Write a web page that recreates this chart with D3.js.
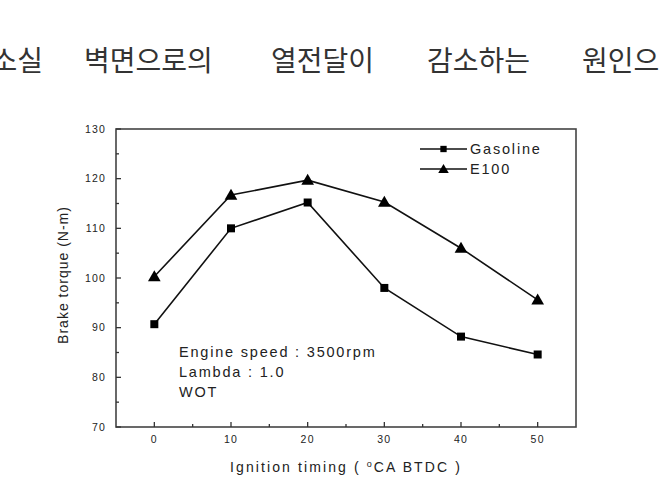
<!DOCTYPE html>
<html>
<head>
<meta charset="utf-8">
<script src="https://cdn.jsdelivr.net/npm/d3@7"></script>
<style>
  body { margin: 0; background: #fff; }
  svg { display: block; }
  text { font-family: Arial, "Liberation Sans", sans-serif; fill: #222; }
</style>
</head>
<body>
<svg id="chart" width="669" height="481"></svg>
<script>
// data
const timing = [0, 10, 20, 30, 40, 50];
const gasoline = [90.7, 110.0, 115.2, 98.0, 88.2, 84.6];
const e100 = [100.3, 116.7, 119.7, 115.3, 106.0, 95.6];
const xTicks = [0, 10, 20, 30, 40, 50];
const yTicks = [70, 80, 90, 100, 110, 120, 130];
const headerWords = ["소실", "벽면으로의", "열전달이", "감소하는", "원인으"];
const notes = ["Engine speed : 3500rpm", "Lambda : 1.0", "WOT"];

const svg = d3.select("#chart");
const m = { left: 116, top: 129, right: 576, bottom: 427 };

const x = d3.scaleLinear().domain([-5, 55]).range([m.left, m.right]);
const y = d3.scaleLinear().domain([70, 130]).range([m.bottom, m.top]);

// korean text line above the chart (fragment of page text)
const wordX = [43, 84, 271, 427, 582];
svg.append("g").selectAll("text")
  .data(headerWords)
  .join("text")
  .attr("x", (d, i) => wordX[i])
  .attr("y", 71)
  .attr("text-anchor", (d, i) => i === 0 ? "end" : "start")
  .style("font-family", "'Noto Sans CJK KR', sans-serif")
  .style("font-size", "28px")
  .style("fill", "#333")
  .text(d => d);

// frame
svg.append("rect")
  .attr("x", m.left).attr("y", m.top)
  .attr("width", m.right - m.left).attr("height", m.bottom - m.top)
  .attr("fill", "none").attr("stroke", "#444").attr("stroke-width", 1.6);

// x axis ticks (inward), minor at 5s
const xMinor = d3.range(5, 50, 10);
svg.append("g").selectAll("line.maj").data(xTicks).join("line")
  .attr("x1", d => x(d)).attr("x2", d => x(d))
  .attr("y1", m.bottom).attr("y2", m.bottom - 5)
  .attr("stroke", "#333").attr("stroke-width", 1.3);
svg.append("g").selectAll("line.min").data(xMinor).join("line")
  .attr("x1", d => x(d)).attr("x2", d => x(d))
  .attr("y1", m.bottom).attr("y2", m.bottom - 3)
  .attr("stroke", "#333").attr("stroke-width", 1.3);
svg.append("g").selectAll("text").data(xTicks).join("text")
  .attr("x", d => x(d)).attr("y", m.bottom + 16)
  .attr("text-anchor", "middle")
  .style("font-size", "10.5px").style("letter-spacing", "1.2px")
  .text(d => d);

// y axis ticks (inward), minor at 5s
const yMinor = d3.range(75, 130, 10);
svg.append("g").selectAll("line").data(yTicks).join("line")
  .attr("x1", m.left).attr("x2", m.left + 5)
  .attr("y1", d => y(d)).attr("y2", d => y(d))
  .attr("stroke", "#333").attr("stroke-width", 1.3);
svg.append("g").selectAll("line").data(yMinor).join("line")
  .attr("x1", m.left).attr("x2", m.left + 3)
  .attr("y1", d => y(d)).attr("y2", d => y(d))
  .attr("stroke", "#333").attr("stroke-width", 1.3);
svg.append("g").selectAll("text").data(yTicks).join("text")
  .attr("x", m.left - 10).attr("y", d => y(d) + 3.5)
  .attr("text-anchor", "end")
  .style("font-size", "10.5px").style("letter-spacing", "1.2px")
  .text(d => d);

// axis titles
svg.append("text")
  .attr("transform", `translate(68,${(m.top + m.bottom) / 2 - 3}) rotate(-90)`)
  .attr("text-anchor", "middle")
  .style("font-size", "14px").style("letter-spacing", "1px")
  .text("Brake torque (N-m)");
const xt = svg.append("text")
  .attr("x", (m.left + m.right) / 2 - 0).attr("y", 472)
  .attr("text-anchor", "middle")
  .style("font-size", "14px").style("letter-spacing", "2.1px");
xt.append("tspan").text("Ignition timing ( ");
xt.append("tspan").attr("dy", -5).style("font-size", "9px").text("o");
xt.append("tspan").attr("dy", 5).text("CA BTDC )");

// series
const line = d3.line().x((d, i) => x(timing[i])).y(d => y(d));
const sq = d3.symbol().type(d3.symbolSquare).size(64);
const tri = d3.symbol().type(d3.symbolTriangle).size(70);

function drawSeries(vals, sym, dy) {
  svg.append("path").datum(vals)
    .attr("d", line).attr("fill", "none")
    .attr("stroke", "#111").attr("stroke-width", 1.6);
  svg.append("g").selectAll("path").data(vals).join("path")
    .attr("d", sym)
    .attr("transform", (d, i) => `translate(${x(timing[i])},${y(d) + dy})`)
    .attr("fill", "#000");
}
drawSeries(gasoline, sq, 0);
drawSeries(e100, tri, 1);

// legend
const legend = [["Gasoline", d3.symbolSquare, 40, 0], ["E100", d3.symbolTriangle, 48, 1]];
const lg = svg.append("g").selectAll("g").data(legend).join("g")
  .attr("transform", (d, i) => `translate(420,${149 + i * 20})`);
lg.append("line").attr("x1", 0).attr("x2", 47)
  .attr("stroke", "#111").attr("stroke-width", 1.6);
lg.append("path").attr("d", d => d3.symbol().type(d[1]).size(d[2])())
  .attr("transform", d => `translate(23.5,${d[3]})`).attr("fill", "#000");
lg.append("text").attr("x", 50).attr("y", 5)
  .style("font-size", "14.5px").style("letter-spacing", "1.8px")
  .text(d => d[0]);

// condition notes
svg.append("g").selectAll("text").data(notes).join("text")
  .attr("x", 179).attr("y", (d, i) => 357 + i * 20)
  .style("font-size", "14.5px").style("letter-spacing", "1.8px")
  .text(d => d);
</script>
</body>
</html>
